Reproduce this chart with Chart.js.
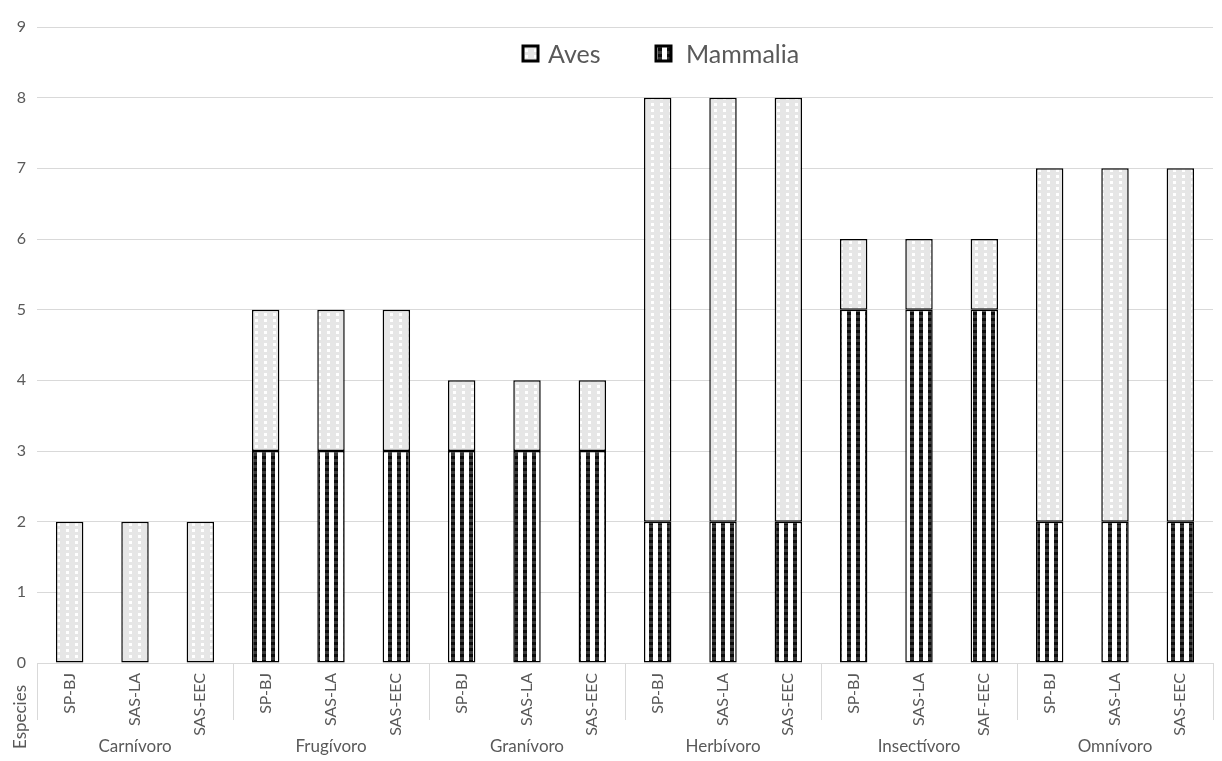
<!DOCTYPE html>
<html>
<head>
<meta charset="utf-8">
<script src="https://cdn.jsdelivr.net/npm/chart.js@4/dist/chart.umd.min.js"></script>
<style>
    body { margin: 0; background: #fff; }
    #wrap { position: relative; width: 1222px; height: 761px; }
</style>
</head>
<body>
<div id="wrap"><canvas id="myChart"></canvas></div>
<script>
// data
var labels = ["SP-BJ", "SAS-LA", "SAS-EEC", "SP-BJ", "SAS-LA", "SAS-EEC",
              "SP-BJ", "SAS-LA", "SAS-EEC", "SP-BJ", "SAS-LA", "SAS-EEC",
              "SP-BJ", "SAS-LA", "SAF-EEC", "SP-BJ", "SAS-LA", "SAS-EEC"];
var groups = ["Carnívoro", "Frugívoro", "Granívoro", "Herbívoro", "Insectívoro", "Omnívoro"];
var mammalia_values = [0, 0, 0, 3, 3, 3, 3, 3, 3, 2, 2, 2, 5, 5, 5, 2, 2, 2];
var aves_values = [2, 2, 2, 2, 2, 2, 1, 1, 1, 6, 6, 6, 1, 1, 1, 5, 5, 5];
var y_ticks = [0, 1, 2, 3, 4, 5, 6, 7, 8, 9];

var FONT = "Lato, 'Open Sans', sans-serif";
var TEXT = "#595959";
var GRID = "#d9d9d9";

function make_pattern(kind) {
    var c = document.createElement('canvas');
    var p = c.getContext('2d');
    c.width = 9; c.height = 6;
    if (kind == "aves") {
        p.fillStyle = "#e6e6e6";
        p.fillRect(0, 0, 9, 6);
        p.fillStyle = "#ffffff";
        p.fillRect(3, 1, 3, 3);
    }
    else {
        p.fillStyle = "#ffffff";
        p.fillRect(0, 0, 9, 6);
        p.fillStyle = "#0d0d0d";
        p.fillRect(1, 0, 4, 3);
        p.fillStyle = "#383838";
        p.fillRect(1, 3, 4, 3);
    }
    return p.createPattern(c, 'repeat');
}

var avesPattern = make_pattern("aves");
var mammaliaPattern = make_pattern("mammalia");

// group labels, separators, legend, "Especies"
var extras = {
    id: 'extras',
    afterDraw: function(chart) {
        var ctx = chart.ctx;
        var x = chart.scales.x;
        var area = chart.chartArea;
        var per = labels.length / groups.length;
        ctx.save();
        ctx.strokeStyle = GRID;
        ctx.lineWidth = 1;
        for (var i = 0; i <= groups.length; i++) {
            var px;
            if (i == 0) px = area.left;
            else if (i == groups.length) px = area.right;
            else px = (x.getPixelForValue(i * per - 1) + x.getPixelForValue(i * per)) / 2;
            px = Math.round(px) + 0.5;
            ctx.beginPath();
            ctx.moveTo(px, area.bottom);
            ctx.lineTo(px, 720);
            ctx.stroke();
        }
        ctx.fillStyle = TEXT;
        ctx.font = "17px " + FONT;
        ctx.textAlign = "center";
        ctx.textBaseline = "middle";
        for (var g = 0; g < groups.length; g++) {
            var cx = (x.getPixelForValue(g * per) + x.getPixelForValue(g * per + per - 1)) / 2;
            ctx.fillText(groups[g], cx, 747);
        }
        // Especies
        ctx.save();
        ctx.translate(21, 717);
        ctx.rotate(-Math.PI / 2);
        ctx.fillText("Especies", 0, 0);
        ctx.restore();

        // legend
        var items = [
            { label: chart.data.datasets[1].label, fill: avesPattern, bx: 523, tx: 548 },
            { label: chart.data.datasets[0].label, fill: mammaliaPattern, bx: 656, tx: 686 }
        ];
        ctx.font = "25px " + FONT;
        ctx.textAlign = "left";
        items.forEach(function(it) {
            ctx.fillStyle = it.fill;
            ctx.fillRect(it.bx, 46, 15, 15);
            ctx.strokeStyle = "#000";
            ctx.lineWidth = 3;
            ctx.strokeRect(it.bx, 46, 15, 15);
            ctx.fillStyle = TEXT;
            ctx.fillText(it.label, it.tx, 55);
        });
        ctx.restore();
    }
};

var ctx = document.getElementById('myChart').getContext('2d');

var myChart = new Chart(ctx, {
    type: 'bar',
    data: {
        labels: labels,
        datasets: [
        {
            label: "Mammalia",
            data: mammalia_values,
            backgroundColor: mammaliaPattern,
            borderColor: '#000000',
            borderWidth: 1.5,
            borderSkipped: false,
            categoryPercentage: 1,
            barPercentage: 0.42
        },
        {
            label: "Aves",
            data: aves_values,
            backgroundColor: avesPattern,
            borderColor: '#000000',
            borderWidth: 1.5,
            borderSkipped: false,
            categoryPercentage: 1,
            barPercentage: 0.42
        }]
    },
    options: {
        responsive: true,
        maintainAspectRatio: false,
        animation: false,
        layout: { padding: { top: 27, right: 9, left: 0, bottom: 0 } },
        plugins: {
            legend: { display: false },
            tooltip: { enabled: false }
        },
        scales: {
            x: {
                stacked: true,
                grid: { display: false },
                border: { color: GRID },
                ticks: {
                    color: TEXT,
                    font: { family: FONT, size: 16 },
                    minRotation: 90,
                    maxRotation: 90,
                    padding: 2,
                    autoSkip: false
                },
                afterFit: function(scale) { scale.height = 98; }
            },
            y: {
                stacked: true,
                min: 0,
                max: 9,
                grid: { color: GRID, drawTicks: false },
                border: { display: false },
                afterBuildTicks: function(scale) {
                    scale.ticks = y_ticks.map(function(v) { return { value: v }; });
                },
                ticks: {
                    color: TEXT,
                    font: { family: FONT, size: 16 },
                    padding: 11
                },
                afterFit: function(scale) { scale.width = 37; }
            }
        }
    },
    plugins: [extras]
});
</script>
</body>
</html>
